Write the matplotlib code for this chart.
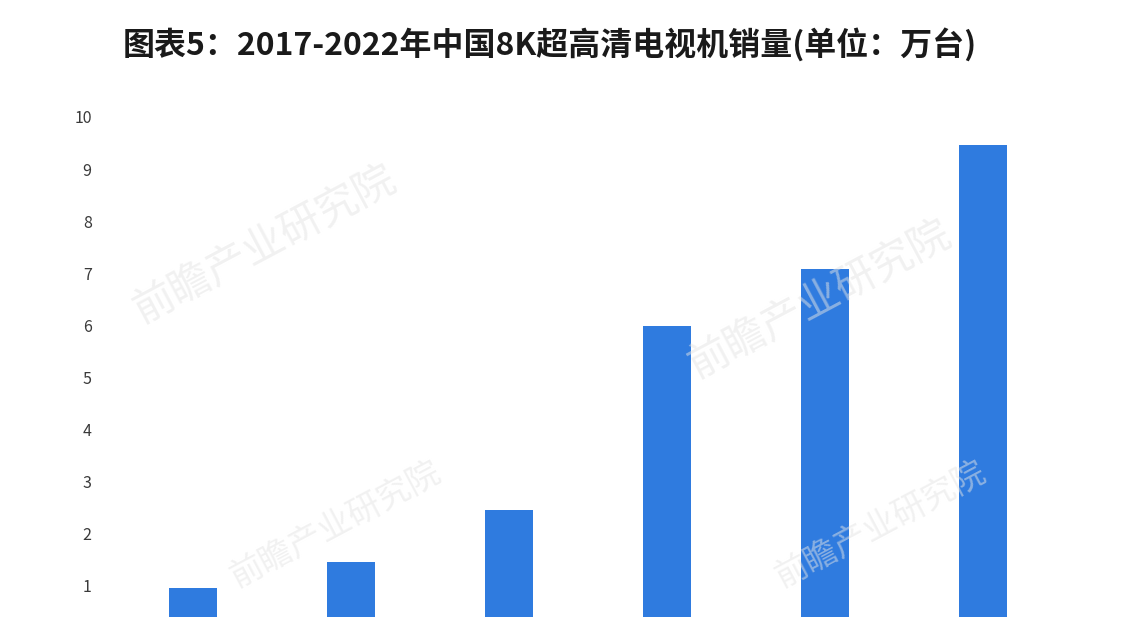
"""
China 8K UHD TV sales 2017-2022 (unit: 10k units), bar chart.
"""

import matplotlib

matplotlib.use("Agg")
import matplotlib.pyplot as plt

plt.rcParams["font.family"] = ["Noto Sans CJK SC", "DejaVu Sans"]

# ---------------------------------------------------------------------------
# Data
# ---------------------------------------------------------------------------

YEARS = ["2017", "2018", "2019", "2020", "2021", "2022"]
SALES = [0.96, 1.46, 2.45, 5.98, 7.09, 9.46]
Y_TICKS = [1, 2, 3, 4, 5, 6, 7, 8, 9, 10]

TITLE = "图表5：2017-2022年中国8K超高清电视机销量(单位：万台)"
WATERMARK = "前瞻产业研究院"

BAR_COLOR = "#2F7BDF"

# ---------------------------------------------------------------------------
# Figure layout (pixels -> figure fractions)
# ---------------------------------------------------------------------------

W, H = 1124, 617
fig = plt.figure(figsize=(W / 100, H / 100), dpi=100)

# value 10 sits at y=117px, value 0 falls below the frame at ~638px
y_top_px, y_zero_px = 117, 638
x_left_px, x_right_px = 100, 1075
ax = fig.add_axes([
    x_left_px / W,
    1 - y_zero_px / H,
    (x_right_px - x_left_px) / W,
    (y_zero_px - y_top_px) / H,
])

# first bar centred at 193px, 158px between bars
x0_px, step_px = 193, 158
xs = list(range(len(YEARS)))
ax.bar(xs, SALES, width=0.31, color=BAR_COLOR, zorder=3)

ax.set_xlim((x_left_px - x0_px) / step_px, (x_right_px - x0_px) / step_px)
ax.set_ylim(0, 10)
ax.set_yticks(Y_TICKS)
ax.set_yticklabels([str(t) for t in Y_TICKS])
# the year labels fall below the cropped frame in the source picture
ax.set_xticks([])
ax.tick_params(axis="y", length=0, pad=6, labelsize=11.5, labelcolor="#3a3a3a")
for spine in ax.spines.values():
    spine.set_visible(False)

fig.text(550 / W, 1 - 45 / H, TITLE, ha="center", va="center",
         fontsize=23, fontweight="bold", color="#1a1a1a")

# faint watermarks
for px, py, size in [(265, 245, 30), (820, 300, 30), (335, 525, 24), (880, 525, 24)]:
    fig.text(px / W, 1 - py / H, WATERMARK, ha="center", va="center",
             fontsize=size, rotation=28, color="#e4e4e4", alpha=0.5, zorder=0)

fig.savefig("out.png", dpi=100, facecolor="white")
